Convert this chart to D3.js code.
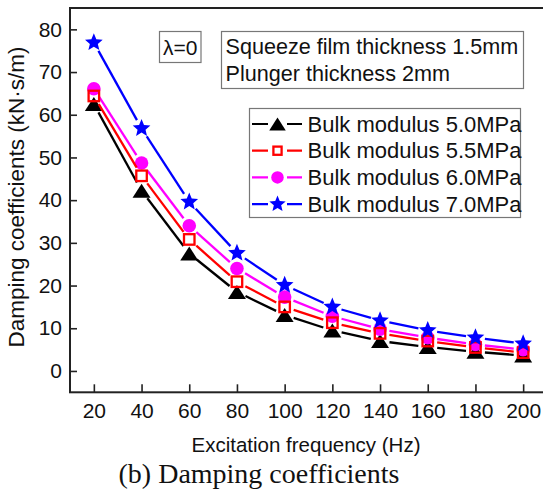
<!DOCTYPE html>
<html>
<head>
<meta charset="utf-8">
<script src="https://cdn.jsdelivr.net/npm/d3@7"></script>
<style>
  html, body { margin: 0; padding: 0; background: #ffffff; }
  svg { display: block; }
</style>
</head>
<body>
<svg id="chart" width="543" height="499"></svg>
<script>
// ---- data ----
const frequencies = [20, 40, 60, 80, 100, 120, 140, 160, 180, 200];
const bulk50 = [62.5, 42.2, 27.5, 18.5, 13.1, 9.5, 7.0, 5.6, 4.5, 3.6];
const bulk55 = [64.4, 45.7, 30.8, 20.9, 15.0, 11.3, 8.8, 7.0, 5.5, 4.3];
const bulk60 = [66.1, 48.7, 34.0, 24.0, 17.3, 12.8, 9.8, 7.8, 6.2, 5.0];
const bulk70 = [76.9, 56.8, 39.6, 27.6, 20.1, 15.0, 11.8, 9.5, 7.8, 6.4];
const seriesNames = ["Bulk modulus 5.0MPa", "Bulk modulus 5.5MPa", "Bulk modulus 6.0MPa", "Bulk modulus 7.0MPa"];
const xTicks = [20, 40, 60, 80, 100, 120, 140, 160, 180, 200];
const yTicks = [0, 10, 20, 30, 40, 50, 60, 70, 80];
const xLabel = "Excitation frequency (Hz)";
const yLabel = "Damping coefficients (kN·s/m)";
const caption = "(b) Damping coefficients";
const noteLambda = "λ=0";
const noteLines = ["Squeeze film thickness 1.5mm", "Plunger thickness 2mm"];

(function () {
// ---- setup ----
const svg = d3.select("#chart");
const FONT = "'Liberation Sans', Arial, sans-serif";
const SERIF = "'Liberation Serif', 'Times New Roman', serif";
const pLeft = 70, pRight = 547, pTop = 8, pBottom = 392.3;

const x = d3.scaleLinear().domain([10, 210]).range([pLeft, pRight]);
const y = d3.scaleLinear().domain([-5, 85]).range([pBottom, pTop]);

function starPath(r) {
  const ri = r * 0.45;
  const pts = [];
  for (let i = 0; i < 10; i++) {
    const a = -Math.PI / 2 + i * Math.PI / 5;
    const rr = i % 2 === 0 ? r : ri;
    pts.push([rr * Math.cos(a), rr * Math.sin(a)]);
  }
  return "M" + pts.map(p => p[0].toFixed(2) + "," + p[1].toFixed(2)).join("L") + "Z";
}
function triPath(w, h) {
  return `M0,${-h/2}L${w/2},${h/2}L${-w/2},${h/2}Z`;
}

const series = [
  { name: seriesNames[0], values: bulk50, color: "#000000", shape: "tri" },
  { name: seriesNames[1], values: bulk55, color: "#ff0000", shape: "sq" },
  { name: seriesNames[2], values: bulk60, color: "#ff00ff", shape: "circ" },
  { name: seriesNames[3], values: bulk70, color: "#0000ff", shape: "star" }
];
const drawOrder = [0, 2, 1, 3];

function drawMarker(g, shape, color, cx, cy, scale) {
  scale = scale || 1;
  if (shape === "tri") {
    g.append("path").attr("d", triPath(18 * scale, 14 * scale))
      .attr("transform", `translate(${cx},${cy})`).attr("fill", color);
  } else if (shape === "sq") {
    const s = 10.5 * scale;
    g.append("rect").attr("x", cx - s / 2).attr("y", cy - s / 2)
      .attr("width", s).attr("height", s)
      .attr("fill", "none").attr("stroke", color).attr("stroke-width", 2.3);
  } else if (shape === "circ") {
    g.append("circle").attr("cx", cx).attr("cy", cy).attr("r", 6.8 * scale).attr("fill", color);
  } else {
    g.append("path").attr("d", starPath(9.3 * scale))
      .attr("transform", `translate(${cx},${cy})`).attr("fill", color);
  }
}

// ---- series ----
const plot = svg.append("g");
const GAP = 9.5;
drawOrder.forEach(i => {
  const s = series[i];
  const g = plot.append("g");
  const pts = frequencies.map((f, k) => [x(f), y(s.values[k])]);
  for (let k = 0; k < pts.length - 1; k++) {
    const [x1, y1] = pts[k], [x2, y2] = pts[k + 1];
    const dx = x2 - x1, dy = y2 - y1, L = Math.hypot(dx, dy);
    if (L <= 2 * GAP) continue;
    const ux = dx / L, uy = dy / L;
    g.append("line")
      .attr("x1", x1 + ux * GAP).attr("y1", y1 + uy * GAP)
      .attr("x2", x2 - ux * GAP).attr("y2", y2 - uy * GAP)
      .attr("stroke", s.color).attr("stroke-width", 2.3);
  }
  pts.forEach(p => drawMarker(g, s.shape, s.color, p[0], p[1]));
});

// ---- axes ----
const axisColor = "#222222";
const xAxis = d3.axisBottom(x).tickValues(xTicks).tickSize(-8).tickPadding(11).tickSizeOuter(0);
const gx = svg.append("g").attr("transform", `translate(0,${pBottom})`).call(xAxis);
gx.select(".domain").remove();
gx.selectAll(".tick line").attr("stroke", axisColor).attr("stroke-width", 1.6);
gx.selectAll(".tick text").attr("font-family", FONT).attr("font-size", 21).attr("fill", "#111");

const yAxis = d3.axisLeft(y).tickValues(yTicks).tickSize(-7).tickPadding(8).tickSizeOuter(0);
const gy = svg.append("g").attr("transform", `translate(${pLeft},0)`).call(yAxis);
gy.select(".domain").remove();
gy.selectAll(".tick line").attr("stroke", axisColor).attr("stroke-width", 1.6);
gy.selectAll(".tick text").attr("font-family", FONT).attr("font-size", 21).attr("fill", "#111");

// frame
svg.append("rect").attr("x", pLeft).attr("y", pTop)
  .attr("width", pRight - pLeft).attr("height", pBottom - pTop)
  .attr("fill", "none").attr("stroke", axisColor).attr("stroke-width", 2);

// axis labels
svg.append("text").attr("x", 306).attr("y", 452).attr("text-anchor", "middle")
  .attr("font-family", FONT).attr("font-size", 20.5).attr("fill", "#111").text(xLabel);
svg.append("text").attr("transform", "translate(24,197) rotate(-90)").attr("text-anchor", "middle")
  .attr("font-family", FONT).attr("font-size", 22.5).attr("fill", "#111").text(yLabel);

// caption
svg.append("text").attr("x", 259).attr("y", 483).attr("text-anchor", "middle")
  .attr("font-family", SERIF).attr("font-size", 28).attr("fill", "#111").text(caption);

// ---- annotation boxes ----
const boxStroke = "#777777";
svg.append("rect").attr("x", 159.5).attr("y", 31.5).attr("width", 41.5).attr("height", 31)
  .attr("fill", "#fff").attr("stroke", boxStroke).attr("stroke-width", 1.2);
svg.append("text").attr("x", 180.2).attr("y", 54.5).attr("text-anchor", "middle")
  .attr("font-family", FONT).attr("font-size", 21).attr("fill", "#111").text(noteLambda);

svg.append("rect").attr("x", 221.5).attr("y", 31.5).attr("width", 302).attr("height", 57)
  .attr("fill", "#fff").attr("stroke", boxStroke).attr("stroke-width", 1.2);
noteLines.forEach((t, i) => {
  svg.append("text").attr("x", 225.5).attr("y", 54 + i * 26.5)
    .attr("font-family", FONT).attr("font-size", 21.6).attr("fill", "#111").text(t);
});

// ---- legend ----
const lg = svg.append("g");
lg.append("rect").attr("x", 249.5).attr("y", 108.5).attr("width", 271).attr("height", 109)
  .attr("fill", "#fff").attr("stroke", boxStroke).attr("stroke-width", 1.2);
series.forEach((s, i) => {
  const cy = 124 + i * 26.7;
  lg.append("line").attr("x1", 252).attr("x2", 302).attr("y1", cy).attr("y2", cy)
    .attr("stroke", s.color).attr("stroke-width", 2.2);
  lg.append("rect").attr("x", 268).attr("y", cy - 8).attr("width", 19).attr("height", 16).attr("fill", "#fff");
  drawMarker(lg, s.shape, s.color, 277.5, cy, s.shape === "sq" ? 0.78 : 0.92);
  lg.append("text").attr("x", 307.5).attr("y", cy + 7.5)
    .attr("font-family", FONT).attr("font-size", 22).attr("fill", "#111").text(s.name);
});
})();
</script>
</body>
</html>
